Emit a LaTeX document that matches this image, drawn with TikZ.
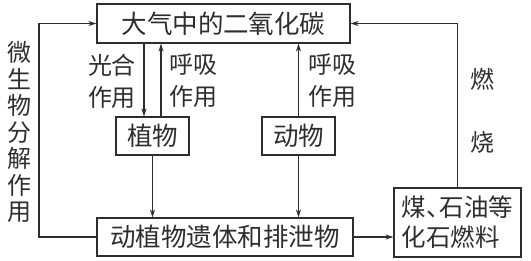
\documentclass[tikz,border=0pt]{standalone}
\usepackage{fontspec}
\newfontfamily\cjk{Noto Sans CJK SC}
\usetikzlibrary{arrows.meta}
\definecolor{ink}{HTML}{2E2E2E}
\begin{document}
\begin{tikzpicture}[x=1pt,y=-1pt,
  box/.style={draw=ink,line width=1.2pt,inner sep=0pt,text=ink,font=\cjk\fontsize{25.5}{28}\selectfont},
  lbl/.style={inner sep=0pt,text=ink,align=center,font=\cjk\fontsize{24}{32}\selectfont},
  arr/.style={draw=ink,line width=1.2pt,-{Stealth[length=8pt,width=5pt]}},
  ln/.style={draw=ink,line width=1.2pt}]
\useasboundingbox (0,0) rectangle (531,261);
\node[box,minimum width=253pt,minimum height=39pt] (top) at (223.5,23.5) {大气中的二氧化碳};
\node[box,minimum width=73pt,minimum height=38pt] (plant) at (152.5,136) {植物};
\node[box,minimum width=73pt,minimum height=38pt] (animal) at (298.5,136) {动物};
\node[box,minimum width=256pt,minimum height=38pt] (bottom) at (225,237) {动植物遗体和排泄物};
\node[box,minimum width=127pt,minimum height=69pt,align=left,font=\cjk\fontsize{24.5}{30}\selectfont] (fossil) at (457.5,222.5) {煤、\kern-0.45em石油等\\化石燃料};
\coordinate (lc) at (39,0);
\node[lbl] (l1) at (112,81) {光合\\作用};
\node[lbl] (l2) at (193,81) {呼吸\\作用};
\node[lbl] (l3) at (332,81) {呼吸\\作用};
\node[lbl,font=\cjk\fontsize{24}{26.5}\selectfont] (l4) at (19,132) {微\\生\\物\\分\\解\\作\\用};
\node[lbl,font=\cjk\fontsize{24}{63}\selectfont] (l5) at (482,111) {燃\\烧};
\draw[arr] ([xshift=-8.5pt]plant.north |- top.south) -- ([xshift=-8.5pt]plant.north);
\draw[arr] ([xshift=8.5pt]plant.north) -- ([xshift=8.5pt]plant.north |- top.south);
\draw[arr] (animal.north) -- (animal.north |- top.south);
\draw[arr] (plant.south) -- (plant.south |- bottom.north);
\draw[arr] (animal.south) -- (animal.south |- bottom.north);
\draw[arr] (bottom.east) -- (bottom.east -| fossil.west);
\draw[arr] (fossil.north) -- (fossil.north |- top.east) -- (top.east);
\draw[arr] (bottom.west) -- (lc |- bottom.west) -- (lc |- top.west) -- (top.west);
\end{tikzpicture}
\end{document}
